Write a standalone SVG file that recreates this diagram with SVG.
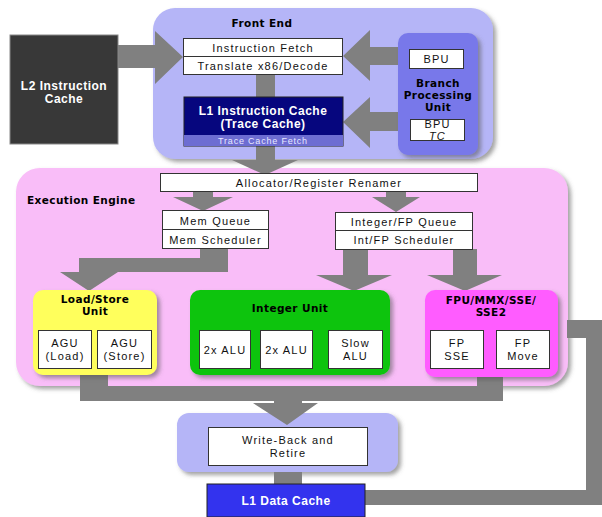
<svg xmlns="http://www.w3.org/2000/svg" width="602" height="517" viewBox="0 0 602 517">
<defs>
<filter id="sh" x="-10%" y="-10%" width="130%" height="130%">
<feDropShadow dx="3" dy="3" stdDeviation="2" flood-color="#555" flood-opacity="0.55"/>
</filter>
<style>
.box{fill:#fff;stroke:#333;stroke-width:1}
.t{font-family:"Liberation Sans",Arial,sans-serif;font-size:11px;letter-spacing:1.2px;fill:#111;text-anchor:middle}
.h{font-family:"DejaVu Sans",Verdana,sans-serif;font-weight:bold;font-size:10.5px;fill:#000;text-anchor:middle;letter-spacing:0.4px}
.w{font-family:"Liberation Sans",Arial,sans-serif;font-weight:bold;font-size:12px;fill:#fff;text-anchor:middle;letter-spacing:0.5px}
.arr{fill:#808080}
</style>
</defs>
<rect width="602" height="517" fill="#fff"/>

<g id="front-end">
<rect x="153" y="8" width="340" height="151" rx="22" fill="#b5b5f7" filter="url(#sh)"/>
<text class="h" x="262" y="27" font-size="12">Front End</text>
</g>

<g id="execution-engine">
<rect x="16" y="168" width="552" height="218" rx="24" fill="#f9bdf8" filter="url(#sh)"/>
<text class="h" x="27" y="204" font-size="12" style="text-anchor:start">Execution Engine</text>
</g>

<g id="write-back-panel">
<rect x="177" y="413" width="221" height="59" rx="12" fill="#b5b5f7" filter="url(#sh)"/>
</g>

<g id="connectors">
<polygon class="arr" points="118,45 155,45 155,31 183,57 155,84 155,68 118,68"/>
<rect class="arr" x="256" y="75" width="19" height="23"/>
<polygon class="arr" points="256,146 275,146 275,160 298,160 265,175 232,160 256,160"/>
<polygon class="arr" points="398,47 370,47 370,30 343,56 370,81 370,65 398,65"/>
<polygon class="arr" points="398,112 370,112 370,97 343,122 370,148 370,131 398,131"/>
<polygon class="arr" points="193,192 213,192 213,197 233,197 203,211 173,197 193,197"/>
<polygon class="arr" points="386,192 406,192 406,197 420,197 396,212 372,197 386,197"/>
<polygon class="arr" points="200,248 228,248 228,272 118,272 89,291 60,272 79,272 79,258 200,258"/>
<polygon class="arr" points="343,249 368,249 368,275 392,275 354,291 316,275 343,275"/>
<polygon class="arr" points="453,249 477,249 477,275 502,275 465,291 427,275 453,275"/>
<polygon class="arr" points="80,375 108,375 108,386 477,386 477,376 503,376 503,401 302,401 302,403 318,403 287,425 253,403 274,403 274,401 80,401"/>
<rect class="arr" x="274" y="472" width="28" height="13"/>
<polygon class="arr" points="567,320 602,320 602,505 365,505 365,490 586,490 586,338 567,338"/>
</g>

<g id="l2-instruction-cache">
<rect x="10" y="35" width="108" height="109" fill="#383838" stroke="#888" stroke-width="1"/>
<text class="w" x="64" y="90" font-size="11" letter-spacing="0.4">L2 Instruction</text>
<text class="w" x="64" y="103" font-size="11" letter-spacing="0.4">Cache</text>
</g>

<g id="instruction-fetch">
<rect class="box" x="183.500" y="38.500" width="159" height="18"/>
<text class="t" x="263" y="52">Instruction Fetch</text>
</g>
<g id="translate-decode">
<rect class="box" x="183.500" y="56.500" width="159" height="18"/>
<text class="t" x="263" y="70">Translate x86/Decode</text>
</g>

<g id="l1-instruction-cache">
<rect x="184" y="97" width="159" height="49" fill="#06067e" stroke="#222" stroke-width="1"/>
<rect x="184" y="135" width="159" height="11" fill="#6d6dd2"/>
<text class="w" x="263" y="115">L1 Instruction Cache</text>
<text class="w" x="263" y="128">(Trace Cache)</text>
<text x="263" y="144" font-family="Liberation Sans, Arial, sans-serif" font-size="9" letter-spacing="0.8" fill="#e8e8ff" text-anchor="middle">Trace Cache Fetch</text>
</g>

<g id="branch-processing-unit">
<rect x="398" y="33" width="80" height="122" rx="10" fill="#7878ea" filter="url(#sh)"/>
<rect class="box" x="409.500" y="49.500" width="54" height="19"/>
<text class="t" x="436.500" y="63">BPU</text>
<text class="h" x="438" y="87">Branch</text>
<text class="h" x="438" y="99">Processing</text>
<text class="h" x="438" y="111">Unit</text>
<rect class="box" x="410.500" y="119.500" width="54" height="21"/>
<text class="t" x="437.500" y="128" font-size="10">BPU</text>
<text class="t" x="437.500" y="139.500" font-size="7" font-style="italic">TC</text>
</g>

<g id="allocator-register-renamer">
<rect class="box" x="160.500" y="173.500" width="317" height="18"/>
<text class="t" x="319" y="187">Allocator/Register Renamer</text>
</g>

<g id="mem-queue">
<rect class="box" x="162.500" y="210.500" width="106" height="19"/>
<text class="t" x="215.500" y="225">Mem Queue</text>
</g>
<g id="mem-scheduler">
<rect class="box" x="162.500" y="229.500" width="106" height="19"/>
<text class="t" x="215.500" y="244">Mem Scheduler</text>
</g>

<g id="integer-fp-queue">
<rect class="box" x="335.500" y="212.500" width="137" height="18"/>
<text class="t" x="404" y="226">Integer/FP Queue</text>
</g>
<g id="int-fp-scheduler">
<rect class="box" x="335.500" y="230.500" width="137" height="19"/>
<text class="t" x="404" y="244">Int/FP Scheduler</text>
</g>

<g id="load-store-unit">
<rect x="33" y="290" width="124" height="85" rx="10" fill="#ffff5c" filter="url(#sh)"/>
<text class="h" x="95" y="303">Load/Store</text>
<text class="h" x="95" y="315">Unit</text>
<rect class="box" x="38.500" y="330.500" width="53" height="38"/>
<text class="t" x="65" y="347">AGU</text>
<text class="t" x="65" y="360">(Load)</text>
<rect class="box" x="97.500" y="330.500" width="54" height="38"/>
<text class="t" x="124.500" y="347">AGU</text>
<text class="t" x="124.500" y="360">(Store)</text>
</g>

<g id="integer-unit">
<rect x="190" y="290" width="200" height="85" rx="10" fill="#0cc40c" filter="url(#sh)"/>
<text class="h" x="290" y="312">Integer Unit</text>
<rect class="box" x="199.500" y="330.500" width="51" height="38"/>
<text class="t" x="225" y="354">2x ALU</text>
<rect class="box" x="260.500" y="330.500" width="52" height="38"/>
<text class="t" x="286.500" y="354">2x ALU</text>
<rect class="box" x="328.500" y="330.500" width="54" height="38"/>
<text class="t" x="355.500" y="347">Slow</text>
<text class="t" x="355.500" y="360">ALU</text>
</g>

<g id="fpu-mmx-sse-unit">
<rect x="425" y="290" width="133" height="87" rx="10" fill="#ff5cff" filter="url(#sh)"/>
<text class="h" x="491" y="304" letter-spacing="0.8">FPU/MMX/SSE/</text>
<text class="h" x="491" y="316" letter-spacing="0.8">SSE2</text>
<rect class="box" x="430.500" y="330.500" width="53" height="38"/>
<text class="t" x="457" y="347">FP</text>
<text class="t" x="457" y="360">SSE</text>
<rect class="box" x="496.500" y="330.500" width="53" height="38"/>
<text class="t" x="523" y="347">FP</text>
<text class="t" x="523" y="360">Move</text>
</g>

<g id="write-back-retire">
<rect class="box" x="208.500" y="427.500" width="159" height="38"/>
<text class="t" x="288" y="444">Write-Back and</text>
<text class="t" x="288" y="457">Retire</text>
</g>

<g id="l1-data-cache">
<rect x="207" y="484" width="158" height="33" fill="#3333ee" stroke="#222" stroke-width="1"/>
<text class="w" x="286" y="505">L1 Data Cache</text>
</g>
</svg>
